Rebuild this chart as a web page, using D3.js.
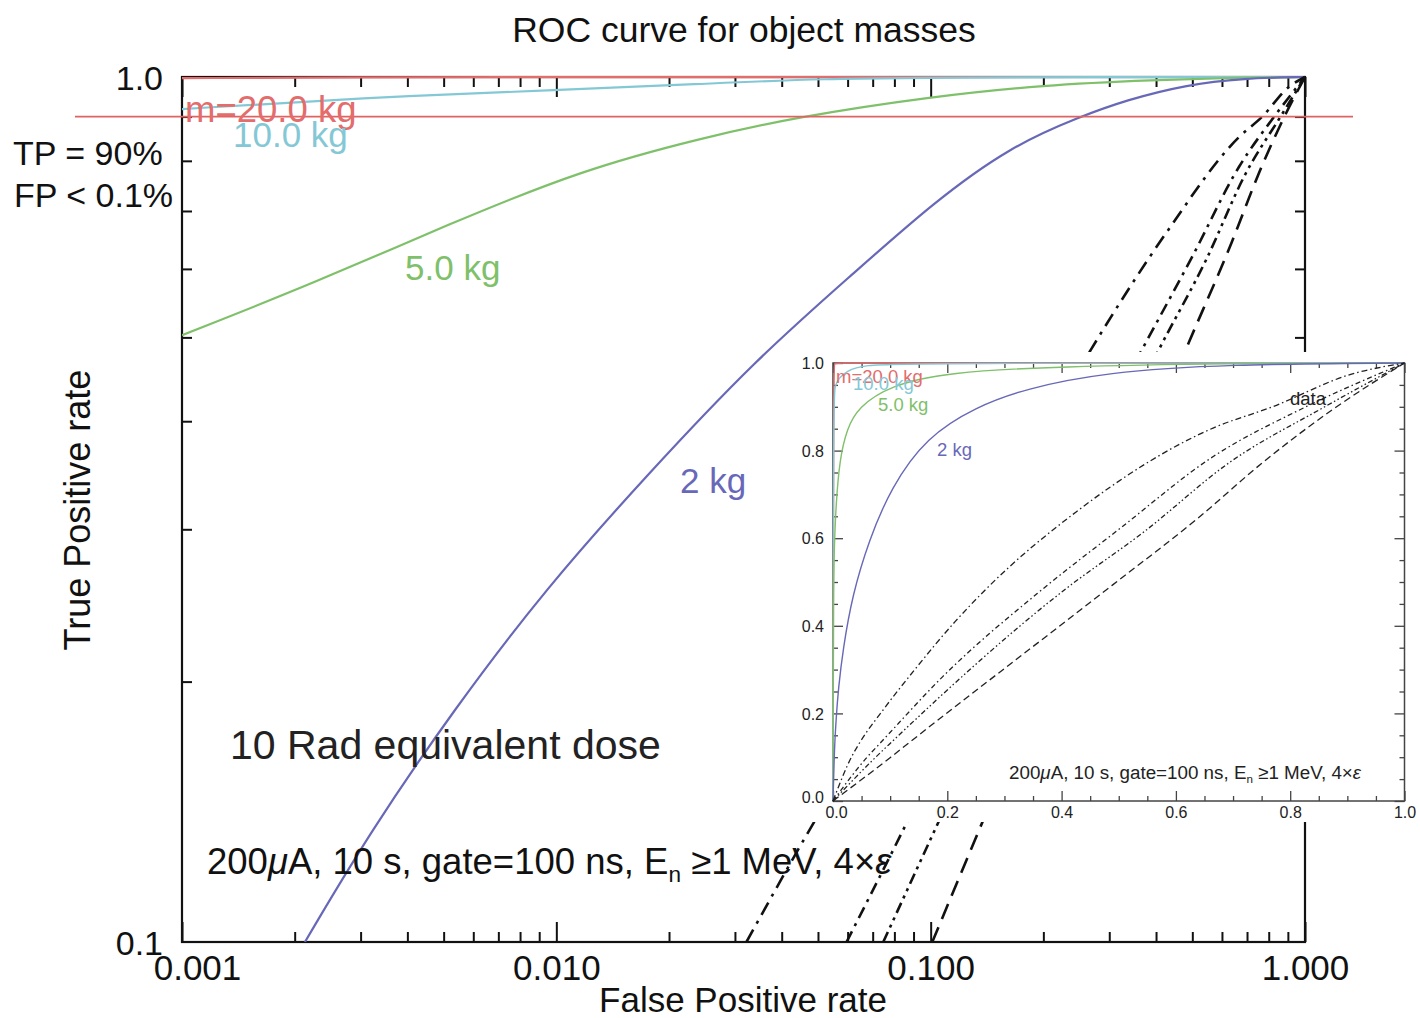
<!DOCTYPE html>
<html>
<head>
<meta charset="utf-8">
<script src="https://cdn.jsdelivr.net/npm/d3@7"></script>
<style>
body { margin: 0; background: #fff; }
</style>
</head>
<body>
<div id="chart"></div>
<script>
const width = 1420;
const height = 1018;
const font = "'Liberation Sans', Arial, Helvetica, sans-serif";

// ROC points (false positive rate, true positive rate)
const fp20kg = [0, 0.001, 0.003, 0.01, 0.1, 1];
const tp20kg = [0, 0.997, 0.999, 1, 1, 1];
const fp10kg = [0, 0.001, 0.003, 0.01, 0.024, 0.049, 0.15, 1];
const tp10kg = [0, 0.918, 0.946, 0.966, 0.981, 0.996, 0.9995, 1];
const fp5kg = [0, 0.001, 0.00226, 0.00516, 0.0117, 0.0244, 0.0438, 0.1, 0.2, 0.395, 0.687, 1];
const tp5kg = [0, 0.503, 0.578, 0.676, 0.781, 0.85, 0.899, 0.949, 0.979, 0.992, 0.999, 1];
const fp2kg = [0, 0.00213, 0.00318, 0.00529, 0.00942, 0.0174, 0.034, 0.0628, 0.1013, 0.1632, 0.2506, 0.335, 0.478, 0.687, 1];
const tp2kg = [0, 0.1, 0.134, 0.185, 0.257, 0.346, 0.471, 0.595, 0.715, 0.831, 0.9, 0.941, 0.979, 0.997, 1];

// measured "data" curves (black, broken lines)
const fpData1 = [0, 0.0322, 0.0471, 0.086, 0.143, 0.214, 0.268, 0.4254, 0.666, 0.767, 0.906, 1];
const tpData1 = [0, 0.1, 0.134, 0.205, 0.3, 0.41, 0.484, 0.66, 0.852, 0.899, 0.974, 1];
const fpData2 = [0, 0.0596, 0.0839, 0.192, 0.367, 0.499, 0.666, 0.826, 1];
const tpData2 = [0, 0.1, 0.134, 0.284, 0.484, 0.619, 0.787, 0.899, 1];
const fpData3 = [0, 0.0747, 0.102, 0.407, 0.5436, 0.695, 0.859, 1];
const tpData3 = [0, 0.1, 0.134, 0.484, 0.614, 0.774, 0.899, 1];
const fpData4 = [0, 0.101, 0.134, 0.49, 0.638, 0.753, 0.88, 1];
const tpData4 = [0, 0.1, 0.134, 0.494, 0.645, 0.774, 0.899, 1];

const massLabels = ["m=20.0 kg", "10.0 kg", "5.0 kg", "2 kg"];
const tpThreshold = 0.9;

// tick labels
const fpMajor = [0.001, 0.01, 0.1, 1];
const tpMajor = [0.1, 1];
const insetMajor = [0, 0.2, 0.4, 0.6, 0.8, 1];

const massColors = ["#e36c6c", "#84c8d6", "#7fc06b", "#6868b8"];
const dataDash = ["14,7,3,7", "12,6,3,6", "11,5,3,5,3,5", "16,9"];
const dataDashSmall = ["6,3,1.5,3", "5,3,1.5,3", "5,2.5,1.5,2.5,1.5,2.5", "7,4"];

const zip = (a, b) => a.map((v, i) => [v, b[i]]);
const massCurves = [zip(fp20kg, tp20kg), zip(fp10kg, tp10kg), zip(fp5kg, tp5kg), zip(fp2kg, tp2kg)];
const dataCurves = [zip(fpData1, tpData1), zip(fpData2, tpData2), zip(fpData3, tpData3), zip(fpData4, tpData4)];

const svg = d3.select("#chart")
    .append("svg")
    .attr("width", width)
    .attr("height", height)
    .style("font-family", font);

// ---------------- main log-log plot ----------------
const main = { left: 182, right: 1305, top: 77, bottom: 942 };

const xMain = d3.scaleLog().domain([0.001, 1]).range([main.left, main.right]);
const yMain = d3.scaleLog().domain([0.1, 1]).range([main.bottom, main.top]);

const isPow10 = v => Math.abs(Math.log10(v) - Math.round(Math.log10(v))) < 1e-6;
const fpMinor = xMain.ticks().filter(v => !isPow10(v));
const tpMinor = yMain.ticks().filter(v => !isPow10(v));

function cleanAxis(g, sw) {
    g.select(".domain").remove();
    g.selectAll("line").attr("stroke", "#111").attr("stroke-width", sw);
}

svg.append("g")
    .attr("transform", `translate(0,${main.bottom})`)
    .call(d3.axisBottom(xMain).tickValues(fpMinor).tickSize(-10).tickFormat(""))
    .call(g => cleanAxis(g, 2));
svg.append("g")
    .attr("transform", `translate(0,${main.bottom})`)
    .call(d3.axisBottom(xMain).tickValues(fpMajor).tickSize(-20).tickSizeOuter(0).tickPadding(13).tickFormat(d3.format(".3f")))
    .call(g => cleanAxis(g, 2))
    .call(g => g.selectAll("text")
        .attr("font-size", 35)
        .attr("font-family", font)
        .attr("fill", "#111")
        .attr("dx", d => d === 0.001 ? 15 : 0));
svg.append("g")
    .attr("transform", `translate(0,${main.top})`)
    .call(d3.axisTop(xMain).tickValues(fpMinor).tickSize(-10).tickFormat(""))
    .call(g => cleanAxis(g, 2));
svg.append("g")
    .attr("transform", `translate(0,${main.top})`)
    .call(d3.axisTop(xMain).tickValues(fpMajor).tickSize(-20).tickFormat(""))
    .call(g => cleanAxis(g, 2));
svg.append("g")
    .attr("transform", `translate(${main.left},0)`)
    .call(d3.axisLeft(yMain).tickValues(tpMinor).tickSize(-10).tickFormat(""))
    .call(g => cleanAxis(g, 2));
svg.append("g")
    .attr("transform", `translate(${main.left},0)`)
    .call(d3.axisLeft(yMain).tickValues(tpMajor).tickSize(0).tickPadding(19).tickFormat(d3.format(".1f")))
    .call(g => cleanAxis(g, 2))
    .call(g => g.selectAll("text")
        .attr("font-size", 34)
        .attr("font-family", font)
        .attr("fill", "#111")
        .attr("dy", "0.36em"));
svg.append("g")
    .attr("transform", `translate(${main.right},0)`)
    .call(d3.axisRight(yMain).tickValues(tpMinor).tickSize(-10).tickFormat(""))
    .call(g => cleanAxis(g, 2));

svg.append("rect")
    .attr("x", main.left)
    .attr("y", main.top)
    .attr("width", main.right - main.left)
    .attr("height", main.bottom - main.top)
    .attr("fill", "none")
    .attr("stroke", "#111")
    .attr("stroke-width", 2.2);

svg.append("clipPath")
    .attr("id", "clip-main")
    .append("rect")
    .attr("x", main.left)
    .attr("y", main.top - 2)
    .attr("width", main.right - main.left + 2)
    .attr("height", main.bottom - main.top + 2);

const curveMain = d3.line()
    .x(d => xMain(d[0]))
    .y(d => yMain(d[1]))
    .curve(d3.curveBasis);
const lineMain = d3.line()
    .x(d => xMain(d[0]))
    .y(d => yMain(d[1]))
    .curve(d3.curveMonotoneX);

const plotMain = svg.append("g").attr("clip-path", "url(#clip-main)");

massCurves.forEach((c, i) => {
    plotMain.append("path")
        .datum(c.filter(d => d[0] > 0 && d[1] > 0))
        .attr("fill", "none")
        .attr("stroke", massColors[i])
        .attr("stroke-width", 2.2)
        .attr("d", curveMain);
});

dataCurves.forEach((c, i) => {
    plotMain.append("path")
        .datum(c.filter(d => d[0] > 0 && d[1] > 0))
        .attr("fill", "none")
        .attr("stroke", "#111")
        .attr("stroke-width", 2.6)
        .attr("stroke-dasharray", dataDash[i])
        .attr("d", lineMain);
});

// 90 % true positive marker
svg.append("line")
    .attr("x1", 75)
    .attr("x2", 1353)
    .attr("y1", yMain(tpThreshold))
    .attr("y2", yMain(tpThreshold))
    .attr("stroke", "#e06363")
    .attr("stroke-width", 1.6);

const mainLabelPos = [[185, 122], [233, 147], [405, 280], [680, 493]];
massLabels.forEach((t, i) => {
    svg.append("text")
        .attr("x", mainLabelPos[i][0])
        .attr("y", mainLabelPos[i][1])
        .attr("font-size", i === 0 ? 36.5 : 35)
        .attr("fill", massColors[i])
        .text(t);
});

svg.append("text")
    .attr("x", 744)
    .attr("y", 42)
    .attr("text-anchor", "middle")
    .attr("font-size", 35.5)
    .attr("fill", "#111")
    .text("ROC curve for object masses");

svg.append("text")
    .attr("x", 743)
    .attr("y", 1012)
    .attr("text-anchor", "middle")
    .attr("font-size", 35)
    .attr("fill", "#111")
    .text("False Positive rate");

svg.append("text")
    .attr("transform", "translate(90,510) rotate(-90)")
    .attr("text-anchor", "middle")
    .attr("font-size", 36)
    .attr("fill", "#111")
    .text("True Positive rate");

svg.append("text")
    .attr("x", 13)
    .attr("y", 165)
    .attr("font-size", 34)
    .attr("fill", "#111")
    .text("TP = 90%");
svg.append("text")
    .attr("x", 14)
    .attr("y", 207)
    .attr("font-size", 34)
    .attr("fill", "#111")
    .text("FP < 0.1%");

svg.append("text")
    .attr("x", 230)
    .attr("y", 759)
    .attr("font-size", 41)
    .attr("fill", "#222")
    .text("10 Rad equivalent dose");

function runInfo(sel, size) {
    sel.attr("font-size", size);
    sel.append("tspan").text("200");
    sel.append("tspan").attr("font-style", "italic").text("\u03bc");
    sel.append("tspan").text("A, 10 s, gate=100 ns, E");
    sel.append("tspan").attr("font-size", size * 0.62).attr("dy", size * 0.22).text("n");
    sel.append("tspan").attr("dy", -size * 0.22).text(" \u22651 MeV, 4\u00d7");
    sel.append("tspan").attr("font-style", "italic").text("\u03b5");
}

svg.append("text")
    .attr("x", 207)
    .attr("y", 874)
    .attr("fill", "#111")
    .call(runInfo, 36.5);

// ---------------- inset, linear axes ----------------
const inset = { left: 833, right: 1404.5, top: 363, bottom: 801 };

svg.append("rect")
    .attr("x", 790)
    .attr("y", 352)
    .attr("width", width - 790)
    .attr("height", 470)
    .attr("fill", "#fff");

const xIn = d3.scaleLinear().domain([0, 1]).range([inset.left, inset.right]);
const yIn = d3.scaleLinear().domain([0, 1]).range([inset.bottom, inset.top]);
const insetMinor = xIn.ticks(20).filter(v => !insetMajor.some(m => Math.abs(m - v) < 1e-9));

function cleanInset(g) {
    g.select(".domain").remove();
    g.selectAll("line").attr("stroke", "#444").attr("stroke-width", 1.3);
}

[["bottom", inset.bottom], ["top", inset.top]].forEach(([side, pos]) => {
    const ax = side === "bottom" ? d3.axisBottom : d3.axisTop;
    svg.append("g")
        .attr("transform", `translate(0,${pos})`)
        .call(ax(xIn).tickValues(insetMinor).tickSize(-5).tickFormat(""))
        .call(cleanInset);
    svg.append("g")
        .attr("transform", `translate(0,${pos})`)
        .call(ax(xIn).tickValues(insetMajor).tickSize(-10).tickSizeOuter(0).tickPadding(6)
            .tickFormat(side === "bottom" ? d3.format(".1f") : ""))
        .call(cleanInset)
        .call(g => g.selectAll("text")
            .attr("font-size", 16)
            .attr("font-family", font)
            .attr("fill", "#222")
            .attr("dx", d => d === 0 ? 3 : 0));
});

[["left", inset.left], ["right", inset.right]].forEach(([side, pos]) => {
    const ax = side === "left" ? d3.axisLeft : d3.axisRight;
    svg.append("g")
        .attr("transform", `translate(${pos},0)`)
        .call(ax(yIn).tickValues(insetMinor).tickSize(-5).tickFormat(""))
        .call(cleanInset);
    svg.append("g")
        .attr("transform", `translate(${pos},0)`)
        .call(ax(yIn).tickValues(insetMajor).tickSize(-10).tickSizeOuter(0).tickPadding(9)
            .tickFormat(side === "left" ? d3.format(".1f") : ""))
        .call(cleanInset)
        .call(g => g.selectAll("text")
            .attr("font-size", 16)
            .attr("font-family", font)
            .attr("fill", "#222")
            .attr("dy", d => d === 0 ? "0.1em" : "0.35em"));
});

svg.append("rect")
    .attr("x", inset.left)
    .attr("y", inset.top)
    .attr("width", inset.right - inset.left)
    .attr("height", inset.bottom - inset.top)
    .attr("fill", "none")
    .attr("stroke", "#444")
    .attr("stroke-width", 1.5);

const curveIn = d3.line()
    .x(d => xIn(d[0]))
    .y(d => yIn(d[1]))
    .curve(d3.curveBasis);
const lineIn = d3.line()
    .x(d => xIn(d[0]))
    .y(d => yIn(d[1]))
    .curve(d3.curveMonotoneX);

massCurves.forEach((c, i) => {
    svg.append("path")
        .datum(c)
        .attr("fill", "none")
        .attr("stroke", massColors[i])
        .attr("stroke-width", 1.4)
        .attr("d", curveIn);
});

dataCurves.forEach((c, i) => {
    svg.append("path")
        .datum(c)
        .attr("fill", "none")
        .attr("stroke", "#222")
        .attr("stroke-width", 1.3)
        .attr("stroke-dasharray", dataDashSmall[i])
        .attr("d", lineIn);
});

const insetLabelPos = [[836, 383], [853, 390], [878, 411], [937, 456]];
massLabels.forEach((t, i) => {
    svg.append("text")
        .attr("x", insetLabelPos[i][0])
        .attr("y", insetLabelPos[i][1])
        .attr("font-size", 18.5)
        .attr("fill", massColors[i])
        .text(t);
});

svg.append("text")
    .attr("x", 1290)
    .attr("y", 405)
    .attr("font-size", 18.5)
    .attr("fill", "#222")
    .text("data");

svg.append("text")
    .attr("x", 1009)
    .attr("y", 779)
    .attr("fill", "#222")
    .call(runInfo, 18.8);
</script>
</body>
</html>
